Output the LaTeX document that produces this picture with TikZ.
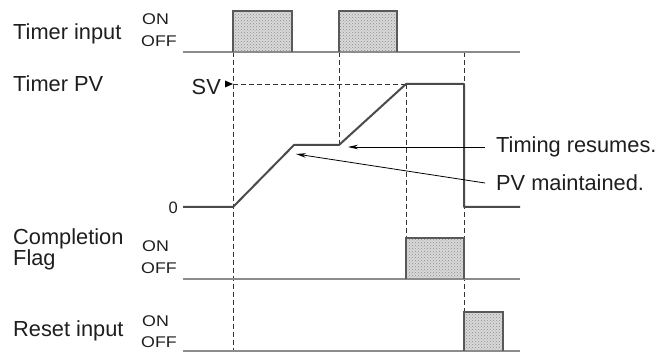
\documentclass[tikz,border=0pt]{standalone}
\usepackage{fontspec}
\setmainfont{Liberation Sans}
\usetikzlibrary{arrows.meta,patterns}
\definecolor{sig}{HTML}{8C8C8C}
\definecolor{pvc}{HTML}{4A4A4A}
\definecolor{dsh}{HTML}{333333}
\definecolor{txt}{HTML}{1E1E1E}
\newcommand\wideword[1]{\scalebox{1.15}[1]{#1}}
\tikzset{
  lbl/.style={anchor=base west, inner sep=0pt, text=txt, font=\fontsize{21.8}{26}\selectfont},
  onoff/.style={anchor=base west, inner sep=0pt, text=txt, font=\fontsize{15.5}{18}\selectfont},
  signal/.style={draw=sig, line width=2pt},
  pvline/.style={draw=pvc, line width=2pt, line join=round},
  pulsefill/.style={fill=black!15},
  pulsedots/.style={pattern=crosshatch dots, pattern color=black!45},
  pulseedge/.style={draw=black!65, line width=1.2pt},
  guide/.style={draw=dsh, line width=0.9pt, dash pattern=on 5pt off 3pt},
  callout/.style={draw=black, line width=0.8pt, -{Stealth[length=10pt,width=4.5pt]}}
}
\begin{document}
\begin{tikzpicture}[x=1pt,y=-1pt]
\useasboundingbox (0,0) rectangle (656,352);

% ---- labels ----
\node[lbl] (ti) at (13,40) {Timer input};
\node[lbl] (tpv) at (13,92) {Timer PV};
\node[lbl] (cf1) at (13,245) {Completion};
\node[lbl] (cf2) at (13,266) {Flag};
\node[lbl] (ri) at (13,337) {Reset input};

\node[onoff] (on1) at (142,25) {\wideword{ON}};
\node[onoff] (off1) at (141,47) {\wideword{OFF}};
\node[onoff] (on2) at (142,252) {\wideword{ON}};
\node[onoff] (off2) at (141,274) {\wideword{OFF}};
\node[onoff] (on3) at (142,327) {\wideword{ON}};
\node[onoff] (off3) at (141,348) {\wideword{OFF}};

\node[lbl, anchor=east] (sv) at (221,87) {SV};
\node[onoff, anchor=east, font=\fontsize{16.5}{19}\selectfont] (zero) at (178,208) {0};

% ---- pulse fills ----
\foreach \xa/\ya/\xb/\yb in {233/11/292/52, 339/11/397/52, 406/238/464/279, 464/312/503/351}{
  \fill[pulsefill] (\xa,\ya) rectangle (\xb,\yb);
  \path[pulsedots] (\xa,\ya) rectangle (\xb,\yb);
}

% ---- guide (dashed) lines ----
\coordinate (g1t) at (233,52);  \coordinate (g1b) at (233,352);
\coordinate (g2t) at (339,52);  \coordinate (g2b) at (339,145);
\coordinate (g3t) at (406,84);  \coordinate (g3b) at (406,238);
\coordinate (g4t) at (464,52);  \coordinate (g4b) at (464,312);
\coordinate (svl) at (233,84);
\draw[guide] (g1t) -- (g1b);
\draw[guide] (g2t) -- (g2b);
\draw[guide] (g3t) -- (g3b);
\draw[guide] (g4t) -- (g4b);
\draw[guide] (svl) -- (g3t);

% SV marker
\fill[black] (225,80.5) -- (svl) -- (225,87.5) -- cycle;

% ---- Timer input ----
\draw[signal] (183,52) -- (520,52);
\draw[pulseedge] (233,52) -- (233,11) -- (292,11) -- (292,52);
\draw[pulseedge] (339,52) -- (339,11) -- (397,11) -- (397,52);

% ---- Timer PV ----
\coordinate (pv0) at (183,207);
\coordinate (pvs) at (233,207);
\coordinate (pvh) at (294,145);
\coordinate (pvr) at (339,145);
\coordinate (pvf) at (406,84);
\coordinate (pve) at (464,84);
\coordinate (pvz) at (464,207);
\coordinate (pvend) at (520,207);
\draw[pvline] (pv0) -- (pvs) -- (pvh) -- (pvr) -- (pvf) -- (pve) -- (pvz) -- (pvend);

% ---- Completion Flag ----
\draw[signal] (183,279) -- (520,279);
\draw[pulseedge] (406,279) -- (406,238) -- (464,238) -- (464,279);

% ---- Reset input ----
\draw[signal] (183,351) -- (520,351);
\draw[pulseedge] (464,351) -- (464,312) -- (503,312) -- (503,351);

% ---- callouts ----
\node[lbl, anchor=west] (tres) at (496,147) {Timing resumes.};
\node[lbl, anchor=west] (pvm) at (496,183) {PV maintained.};
\coordinate (resumept) at (348,147);
\coordinate (holdpt) at (296,154);
\draw[callout] ([xshift=-11pt]tres.west) -- (resumept);
\draw[callout] ([xshift=-11pt]pvm.west) -- (holdpt);
\end{tikzpicture}
\end{document}
